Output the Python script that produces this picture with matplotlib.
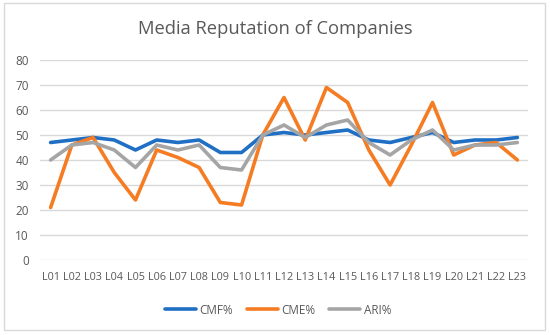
import matplotlib
matplotlib.use('Agg')
import matplotlib.pyplot as plt
from matplotlib.patches import Rectangle

plt.rcParams['font.family'] = ['Open Sans', 'DejaVu Sans']

# 数据
labels = ['L%02d' % i for i in range(1, 24)]
cmf = [47, 48, 49, 48, 44, 48, 47, 48, 43, 43, 50, 51, 50, 51, 52, 48, 47, 49, 51, 47, 48, 48, 49]
cme = [21, 46, 49, 35, 24, 44, 41, 37, 23, 22, 50, 65, 48, 69, 63, 44, 30, 46, 63, 42, 46, 47, 40]
ari = [40, 46, 47, 44, 37, 46, 44, 46, 37, 36, 50, 54, 49, 54, 56, 47, 42, 48, 52, 44, 46, 46, 47]
series = ['CMF%', 'CME%', 'ARI%']
colors = ['#1f6fc5', '#f57c22', '#a5a5a5']
text_col = '#595959'

fig = plt.figure(figsize=(5.5, 3.35), dpi=100)
W, H = 550, 335
ax = fig.add_axes([40 / W, (H - 260) / H, (528 - 40) / W, 200 / H])

x = range(len(labels))
for vals, name, c in zip([cmf, cme, ari], series, colors):
    ax.plot(x, vals, color=c, lw=2.6, label=name, solid_capstyle='round', solid_joinstyle='round')

ax.set_xlim(-0.5, len(labels) - 0.5)
ax.set_ylim(0, 80)
ax.set_yticks(range(0, 81, 10))
ax.set_xticks(list(x))
ax.set_xticklabels(labels)
ax.grid(axis='y', color='#d9d9d9', lw=1)
ax.set_axisbelow(True)
for s in ax.spines.values():
    s.set_visible(False)
ax.tick_params(length=0, colors=text_col, labelsize=7.8)
ax.tick_params(axis='y', pad=8, labelsize=8.5)
ax.tick_params(axis='x', pad=9)

fig.text(0.5, (H - 29) / H, 'Media Reputation of Companies', ha='center', va='center',
         fontsize=13.2, color=text_col)

leg = fig.legend(loc='center', bbox_to_anchor=(278 / W, (H - 310) / H), ncol=3,
                 frameon=False, fontsize=8.5, handlelength=2.6, columnspacing=1.2,
                 handletextpad=0.3)
for t in leg.get_texts():
    t.set_color(text_col)

fig.patches.append(Rectangle((4 / W, 5 / H), 541 / W, 327 / H, transform=fig.transFigure,
                             fill=False, edgecolor='#d9d9d9', lw=1))

fig.savefig('out.png', dpi=100)
